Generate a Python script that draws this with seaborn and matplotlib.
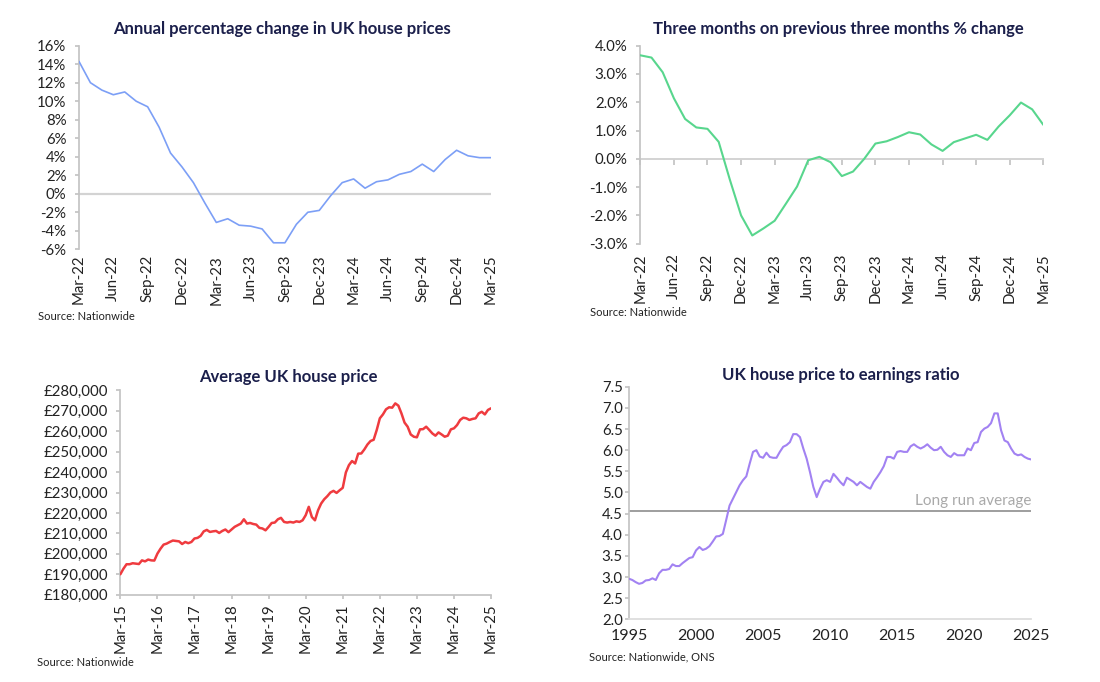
"""
UK house price dashboard: four small Nationwide charts on one page.
"""

import numpy as np
import pandas as pd
import matplotlib
matplotlib.use("Agg")
import matplotlib.pyplot as plt
import seaborn as sns

sns.set_theme(style="ticks")
plt.rcParams["font.family"] = ["Lato", "DejaVu Sans"]

NAVY  = "#1b1f4b"
GREY  = "#c4c4c4"
TEXT  = "#222222"
TICK_FS = 10.8

# ──────────────────────────────────────────────────────────
#  Data
# ──────────────────────────────────────────────────────────
annual_months = pd.date_range("2022-03-01", periods=37, freq="MS").strftime("%b-%y").tolist()
annual_change = [
    14.3, 12.0, 11.2, 10.7, 11.0, 10.0, 9.4, 7.2, 4.4, 2.9, 1.2, -1.0,
    -3.1, -2.7, -3.4, -3.5, -3.8, -5.3, -5.3, -3.3, -2.0, -1.8, -0.2, 1.2,
    1.6, 0.6, 1.3, 1.5, 2.1, 2.4, 3.2, 2.4, 3.7, 4.7, 4.1, 3.9, 3.9,
]

three_month_change = [
    3.66, 3.58, 3.06, 2.14, 1.41, 1.11, 1.06, 0.60, -0.74, -2.00, -2.71, -2.46,
    -2.19, -1.59, -0.98, -0.05, 0.07, -0.12, -0.61, -0.45, 0.00, 0.54, 0.62, 0.77,
    0.94, 0.86, 0.51, 0.28, 0.59, 0.72, 0.85, 0.67, 1.14, 1.54, 1.99, 1.75, 1.20,
]

price_months = pd.date_range("2015-03-01", periods=121, freq="MS").strftime("%b-%y").tolist()
avg_price_k = [
    # 2015 (Mar-Dec)
    190.0, 192.7, 194.9, 194.9, 195.4, 195.2, 195.0, 196.8, 196.3, 197.2,
    # 2016
    196.8, 196.7, 200.1, 202.5, 204.5, 205.0, 205.8, 206.5, 206.3, 206.1, 204.8, 205.8,
    # 2017
    205.2, 205.8, 207.5, 207.8, 208.8, 211.0, 211.7, 210.7, 211.0, 211.2, 210.2, 211.2,
    # 2018
    211.9, 210.6, 211.9, 213.2, 214.0, 214.8, 216.9, 214.8, 215.1, 214.6, 214.3, 212.7,
    # 2019
    212.4, 211.5, 213.2, 215.1, 215.3, 216.9, 217.6, 215.6, 215.3, 215.6, 215.3, 215.9,
    # 2020
    215.6, 216.4, 218.9, 223.0, 218.0, 216.4, 221.3, 224.6, 226.7, 228.2, 230.0, 230.8,
    # 2021
    229.8, 231.1, 232.3, 239.8, 243.4, 245.4, 244.2, 249.0, 249.1, 251.1, 253.5, 255.2,
    # 2022
    255.8, 260.6, 266.3, 268.2, 270.7, 271.7, 271.5, 273.6, 272.5, 268.7, 264.2, 262.2,
    # 2023
    258.4, 257.3, 257.0, 260.9, 261.0, 262.2, 260.6, 258.9, 257.8, 259.4, 258.4, 257.3,
    # 2024
    257.8, 260.9, 261.4, 263.0, 265.5, 266.6, 266.3, 265.5, 266.0, 266.3, 268.7, 269.5,
    # 2025 (Jan-Mar)
    268.2, 270.4, 271.2,
]

ratio_quarters = 1995 + np.arange(121) / 4
price_to_earnings = [
    2.96, 2.93, 2.88, 2.84, 2.86, 2.92, 2.93, 2.97, 2.93, 3.09, 3.17, 3.17,
    3.19, 3.30, 3.26, 3.26, 3.33, 3.39, 3.45, 3.47, 3.63, 3.71, 3.64, 3.67,
    3.73, 3.84, 3.96, 3.97, 4.02, 4.35, 4.69, 4.85, 5.01, 5.17, 5.29, 5.38,
    5.68, 5.96, 6.00, 5.85, 5.82, 5.94, 5.84, 5.82, 5.82, 5.96, 6.08, 6.12,
    6.19, 6.38, 6.38, 6.31, 6.04, 5.80, 5.48, 5.13, 4.89, 5.09, 5.25, 5.29,
    5.25, 5.44, 5.35, 5.25, 5.17, 5.35, 5.30, 5.25, 5.17, 5.25, 5.19, 5.13,
    5.09, 5.25, 5.36, 5.48, 5.62, 5.84, 5.84, 5.80, 5.96, 5.98, 5.96, 5.96,
    6.09, 6.14, 6.08, 6.04, 6.08, 6.14, 6.06, 6.00, 6.01, 6.08, 5.96, 5.88,
    5.84, 5.93, 5.88, 5.88, 5.88, 6.04, 6.00, 6.17, 6.19, 6.43, 6.51, 6.55,
    6.64, 6.87, 6.87, 6.47, 6.23, 6.19, 6.04, 5.92, 5.88, 5.90, 5.84, 5.80,
    5.78,
]
long_run_average = 4.56


# ──────────────────────────────────────────────────────────
#  Helpers
# ──────────────────────────────────────────────────────────
def style_axis(ax, ypad=6):
    sns.despine(ax=ax)
    ax.spines["left"].set_color(GREY)
    ax.spines["bottom"].set_color(GREY)
    ax.tick_params(axis="y", length=3, color=GREY, labelsize=TICK_FS, labelcolor=TEXT, pad=ypad)
    ax.tick_params(axis="x", labelsize=TICK_FS, labelcolor=TEXT)
    ax.set_xlabel("")
    ax.set_ylabel("")
    ax.grid(False)


def month_ticks(ax, labels, step, pad, length=0):
    idx = list(range(0, len(labels), step))
    ax.set_xticks(idx)
    ax.set_xticklabels([labels[i] for i in idx], rotation=90)
    ax.tick_params(axis="x", length=length, color=GREY, pad=pad)
    ax.set_xlim(0, len(labels) - 1)


def title(fig, x, y, text):
    fig.text(x / 1100, 1 - y / 682, text, ha="center", va="center",
             fontsize=12, fontweight="bold", color=NAVY)


def source(fig, x, y, text):
    fig.text(x / 1100, 1 - y / 682, text, ha="left", va="center",
             fontsize=8, color=TEXT)


fig = plt.figure(figsize=(11, 6.82), dpi=100)
fig.patch.set_facecolor("white")

ax1 = fig.add_axes([0.0718, 0.6345, 0.3745, 0.2985])
ax2 = fig.add_axes([0.5821, 0.6427, 0.3664, 0.2903])
ax3 = fig.add_axes([0.1094, 0.1280, 0.3370, 0.2997])
ax4 = fig.add_axes([0.5718, 0.0919, 0.3657, 0.3410])

# ── Panel 1: annual % change ─────────────────────────────
df1 = pd.DataFrame({"i": range(len(annual_change)), "v": annual_change})
ax1.axhline(0, color="#d3d3d3", lw=1.6, zorder=1)
sns.lineplot(data=df1, x="i", y="v", ax=ax1, color="#7c9ff6", lw=1.2, zorder=3)
style_axis(ax1)
ax1.spines["bottom"].set_visible(False)
ax1.set_ylim(-6, 16)
ax1.set_yticks(range(-6, 17, 2))
ax1.set_yticklabels([f"{t}%" for t in range(-6, 17, 2)])
month_ticks(ax1, annual_months, 3, pad=4)
title(fig, 282, 29, "Annual percentage change in UK house prices")
source(fig, 38, 316, "Source: Nationwide")

# ── Panel 2: 3m on 3m % change ───────────────────────────
df2 = pd.DataFrame({"i": range(len(three_month_change)), "v": three_month_change})
sns.lineplot(data=df2, x="i", y="v", ax=ax2, color="#58d68d", lw=1.5, zorder=3)
style_axis(ax2)
ax2.spines["bottom"].set_visible(False)
ax2.set_ylim(-3, 4)
ax2.set_yticks(range(-3, 5))
ax2.set_yticklabels([f"{t:.1f}%" for t in range(-3, 5)])
month_ticks(ax2, annual_months, 3, pad=7)
zero_ax = ax2.secondary_xaxis(3 / 7)
zero_ax.set_xticks(ax2.get_xticks())
zero_ax.set_xticklabels([])
zero_ax.tick_params(axis="x", length=4, color=GREY, direction="out")
zero_ax.spines["bottom"].set_color("#d3d3d3")
zero_ax.spines["bottom"].set_linewidth(1.4)
title(fig, 838, 29, "Three months on previous three months % change")
source(fig, 590, 313, "Source: Nationwide")

# ── Panel 3: average price ───────────────────────────────
df3 = pd.DataFrame({"i": range(len(avg_price_k)), "v": np.array(avg_price_k) * 1000})
sns.lineplot(data=df3, x="i", y="v", ax=ax3, color="#ef3b3f", lw=1.8, zorder=3)
style_axis(ax3)
ax3.set_ylim(180000, 280000)
ax3.set_yticks(range(180000, 280001, 10000))
ax3.set_yticklabels([f"£{t:,.0f}" for t in range(180000, 280001, 10000)])
month_ticks(ax3, price_months, 12, pad=3, length=3)
title(fig, 288, 377, "Average UK house price")
source(fig, 37, 662, "Source: Nationwide")

# ── Panel 4: price to earnings ───────────────────────────
df4 = pd.DataFrame({"t": ratio_quarters, "v": price_to_earnings})
ax4.axhline(long_run_average, color="#9e9e9e", lw=1.4, zorder=1)
sns.lineplot(data=df4, x="t", y="v", ax=ax4, color="#a282f2", lw=1.5, zorder=3)
style_axis(ax4, ypad=1.5)
ax4.spines["bottom"].set_color("#dcdcdc")
ax4.set_ylim(2.0, 7.5)
ax4.set_yticks(np.arange(2.0, 7.51, 0.5))
ax4.set_yticklabels([f"{t:.1f}" for t in np.arange(2.0, 7.51, 0.5)])
ax4.set_xlim(1995, 2025)
ax4.set_xticks(range(1995, 2026, 5))
ax4.tick_params(axis="x", length=0, pad=7, labelsize=11.5)
ax4.text(2025, long_run_average + 0.08, "Long run average", ha="right", va="bottom",
         fontsize=11, color="#a9a9a9")
title(fig, 841, 375, "UK house price to earnings ratio")
source(fig, 589, 657, "Source: Nationwide, ONS")

fig.savefig("out.png", dpi=100, facecolor="white")
plt.close(fig)
